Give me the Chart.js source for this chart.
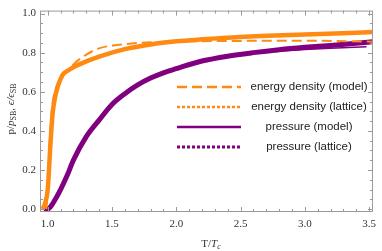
<!DOCTYPE html>
<html>
<head>
<meta charset="utf-8">
<script src="https://cdn.jsdelivr.net/npm/chart.js@4.4.0/dist/chart.umd.min.js"></script>
<style>
  html, body { margin: 0; padding: 0; background: #fff; }
  #wrap { width: 382px; height: 251px; }
</style>
</head>
<body>
<div id="wrap"><canvas id="myChart"></canvas></div>
<script>
// energy density, model
var eModelT = [0.99, 1.0, 1.01, 1.02, 1.04, 1.07, 1.1, 1.15, 1.2, 1.3, 1.4, 1.6, 1.8, 2.0, 2.5, 3.0, 3.53];
var eModelV = [0.0, 0.1, 0.25, 0.4, 0.55, 0.63, 0.67, 0.705, 0.74, 0.79, 0.822, 0.843, 0.853, 0.857, 0.86, 0.861, 0.856];
// energy density, lattice
var eLatT = [0.96, 0.98, 1.0, 1.01, 1.02, 1.03, 1.04, 1.06, 1.08, 1.1, 1.12, 1.15, 1.2, 1.3, 1.4, 1.6, 1.8, 2.0, 2.2, 2.5, 3.0, 3.53];
var eLatV = [0.0, 0.03, 0.1, 0.2, 0.32, 0.42, 0.5, 0.58, 0.63, 0.665, 0.69, 0.705, 0.725, 0.755, 0.78, 0.818, 0.842, 0.858, 0.868, 0.88, 0.893, 0.905];
// pressure, model
var pModelT = [1.0, 1.05, 1.1, 1.15, 1.2, 1.3, 1.4, 1.5, 1.6, 1.7, 1.8, 1.9, 2.0, 2.2, 2.4, 2.6, 2.8, 3.0, 3.2, 3.48];
var pModelV = [0.0, 0.04, 0.1, 0.17, 0.25, 0.37, 0.455, 0.535, 0.59, 0.635, 0.67, 0.697, 0.718, 0.755, 0.779, 0.796, 0.807, 0.816, 0.823, 0.83];
// pressure, lattice
var pLatT = [0.97, 1.0, 1.02, 1.05, 1.1, 1.15, 1.2, 1.3, 1.4, 1.5, 1.6, 1.7, 1.8, 1.9, 2.0, 2.2, 2.4, 2.6, 2.8, 3.0, 3.2, 3.4, 3.53];
var pLatV = [0.0, 0.0, 0.01, 0.04, 0.1, 0.17, 0.25, 0.37, 0.455, 0.535, 0.59, 0.635, 0.67, 0.697, 0.718, 0.757, 0.782, 0.8, 0.815, 0.827, 0.837, 0.848, 0.856];

var xTicks = [1.0, 1.5, 2.0, 2.5, 3.0, 3.5];
var yTicks = [0.0, 0.2, 0.4, 0.6, 0.8, 1.0];
var legendLabels = ['energy density (model)', 'energy density (lattice)', 'pressure (model)', 'pressure (lattice)'];

var orange = 'rgb(255, 138, 18)';
var purple = 'rgb(128, 0, 128)';

function pts(t, v) {
    return t.map(function (x, i) { return { x: x, y: v[i] }; });
}

var serif = '"Liberation Serif", "DejaVu Serif", serif';
var sans = '"Liberation Sans", Arial, sans-serif';

// frame with inward ticks on all four sides
var framePlugin = {
    id: 'frame',
    afterDatasetsDraw: function (chart) {
        var c = chart.ctx, a = chart.chartArea;
        var xs = chart.scales.x, ys = chart.scales.y;
        c.save();
        c.strokeStyle = '#9a9a9a';
        c.lineWidth = 1;
        c.strokeRect(a.left + 0.5, a.top + 0.5, a.right - a.left - 1, a.bottom - a.top - 1);
        c.beginPath();
        for (var t = 1.0; t <= 3.501; t += 0.1) {
            var px = Math.round(xs.getPixelForValue(t)) + 0.5;
            var major = Math.abs(t * 2 - Math.round(t * 2)) < 0.01;
            var len = major ? 5 : 3;
            c.moveTo(px, a.bottom); c.lineTo(px, a.bottom - len);
            c.moveTo(px, a.top); c.lineTo(px, a.top + len);
        }
        for (var v = 0; v <= 1.001; v += 0.05) {
            var py = Math.round(ys.getPixelForValue(v)) + 0.5;
            var majorY = Math.abs(v * 5 - Math.round(v * 5)) < 0.01;
            var l2 = majorY ? 5 : 3;
            c.moveTo(a.left, py); c.lineTo(a.left + l2, py);
            c.moveTo(a.right, py); c.lineTo(a.right - l2, py);
        }
        c.stroke();

        // legend
        var rows = [87, 107, 127, 147];
        var styles = [
            { color: orange, dash: [10, 5], width: 2.5 },
            { color: orange, dash: [3, 2], width: 2.5 },
            { color: purple, dash: [], width: 2.5 },
            { color: purple, dash: [3, 2], width: 3 }
        ];
        c.font = '11.5px ' + sans;
        c.textAlign = 'center';
        c.textBaseline = 'middle';
        rows.forEach(function (y, i) {
            c.beginPath();
            c.setLineDash(styles[i].dash);
            c.strokeStyle = styles[i].color;
            c.lineWidth = styles[i].width;
            c.moveTo(177, y); c.lineTo(241, y);
            c.stroke();
            c.setLineDash([]);
            c.fillStyle = '#222';
            c.fillText(legendLabels[i], 309, y);
        });

        // axis titles
        c.fillStyle = '#333';
        c.textBaseline = 'alphabetic';
        c.textAlign = 'left';
        var big = '11px ' + serif, small = '8px ' + serif;
        var it = 'italic 11px ' + serif, itSmall = 'italic 8px ' + serif;
        // x title: T/T_c
        var parts = [['T/', big, 0], ['T', it, 0], ['c', itSmall, 2]];
        var w = 0;
        parts.forEach(function (p) { c.font = p[1]; w += c.measureText(p[0]).width; });
        var x0 = 211 - w / 2;
        parts.forEach(function (p) { c.font = p[1]; c.fillText(p[0], x0, 247 + p[2]); x0 += c.measureText(p[0]).width; });
        // y title: p/p_SB, e/e_SB
        c.translate(14, 109);
        c.rotate(-Math.PI / 2);
        var yparts = [['p/', big, 0], ['p', it, 0], ['SB', small, 2], [', ', big, 0], ['\u03f5/', it, 0], ['\u03f5', it, 0], ['SB', small, 2]];
        w = 0;
        yparts.forEach(function (p) { c.font = p[1]; w += c.measureText(p[0]).width; });
        x0 = -w / 2;
        yparts.forEach(function (p) { c.font = p[1]; c.fillText(p[0], x0, 0 + p[2]); x0 += c.measureText(p[0]).width; });
        c.restore();
    }
};

var ctx = document.getElementById('myChart').getContext('2d');

var myChart = new Chart(ctx, {
    type: 'line',
    data: {
        datasets: [{
            label: legendLabels[0],
            data: pts(eModelT, eModelV),
            borderColor: orange,
            borderWidth: 2,
            borderDash: [10, 5],
            order: 1
        }, {
            label: legendLabels[1],
            data: pts(eLatT, eLatV),
            borderColor: orange,
            borderWidth: 4.5,
            order: 3
        }, {
            label: legendLabels[2],
            data: pts(pModelT, pModelV),
            borderColor: purple,
            borderWidth: 1.5,
            order: 2
        }, {
            label: legendLabels[3],
            data: pts(pLatT, pLatV),
            borderColor: purple,
            borderWidth: 5,
            order: 4
        }]
    },
    options: {
        responsive: true,
        maintainAspectRatio: false,
        animation: false,
        parsing: false,
        elements: {
            point: { radius: 0 },
            line: { cubicInterpolationMode: 'monotone', fill: false, borderCapStyle: 'butt' }
        },
        layout: { padding: { top: 4, right: 2, left: 0, bottom: 0 } },
        plugins: {
            legend: { display: false },
            tooltip: { enabled: false }
        },
        scales: {
            x: {
                type: 'linear',
                min: 0.94,
                max: 3.53,
                grid: { display: false, drawTicks: false },
                border: { display: false },
                afterBuildTicks: function (s) { s.ticks = xTicks.map(function (v) { return { value: v }; }); },
                afterFit: function (s) { s.height = 39; },
                ticks: {
                    padding: 6,
                    color: '#333',
                    font: { family: serif, size: 11 },
                    callback: function (v) { return v.toFixed(1); }
                }
            },
            y: {
                min: -0.015,
                max: 1.015,
                grid: { display: false, drawTicks: false },
                border: { display: false },
                afterBuildTicks: function (s) { s.ticks = yTicks.map(function (v) { return { value: v }; }); },
                afterFit: function (s) { s.width = 40; },
                ticks: {
                    padding: 4,
                    color: '#333',
                    font: { family: serif, size: 11 },
                    callback: function (v) { return v.toFixed(1); }
                }
            }
        }
    },
    plugins: [framePlugin]
});
</script>
</body>
</html>
